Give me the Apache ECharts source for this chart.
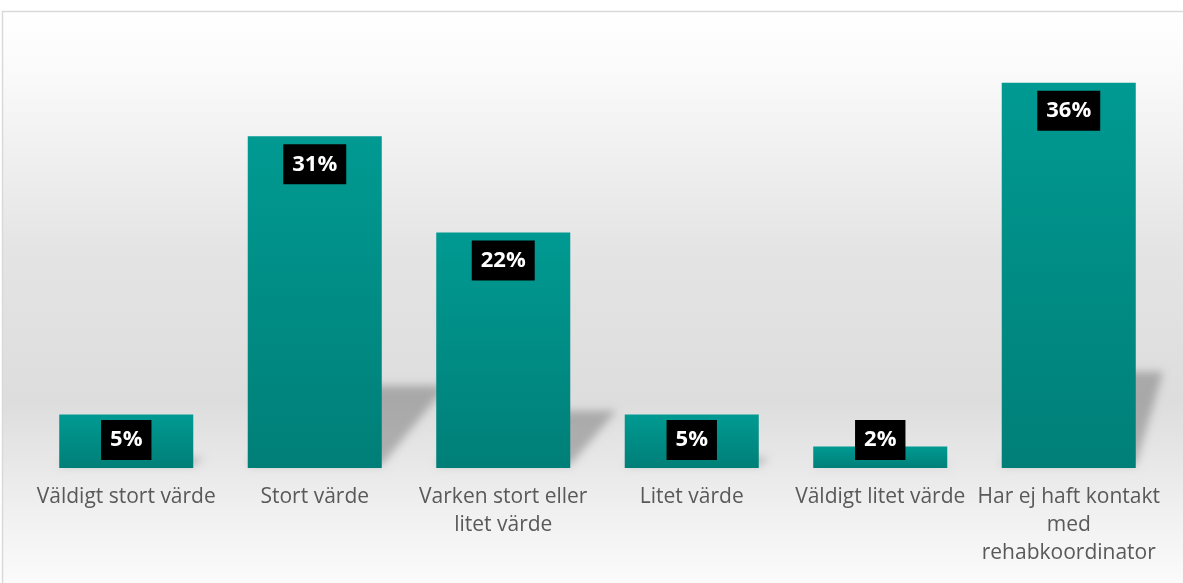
<!DOCTYPE html>
<html>
<head>
<meta charset="utf-8">
<script src="https://cdn.jsdelivr.net/npm/echarts@6/dist/echarts.min.js"></script>
<style>
  html, body { margin: 0; padding: 0; background: #fff; }
  #chart { width: 1183px; height: 583px; }
</style>
</head>
<body>
<div id="chart"></div>
<script>
// svar i procent
const categories = [
  'Väldigt stort värde',
  'Stort värde',
  'Varken stort eller\nlitet värde',
  'Litet värde',
  'Väldigt litet värde',
  'Har ej haft kontakt\nmed\nrehabkoordinator'
]
const values = [5, 31, 22, 5, 2, 36]

const chart = echarts.init(document.getElementById('chart'))

const barRatio = 0.711
const far = 3000

// skugga bakom staplarna (perspektiv), ritas bara som suddig skugga
function renderShadow(params, api) {
  let idx = api.value(0)
  let val = api.value(1)
  let base = api.coord([idx, 0])
  let top = api.coord([idx, val])
  let bw = api.size([1, 0])[0] * barRatio
  let h = base[1] - top[1]
  let sh = h * 0.26
  let dx = sh * 0.75
  let left = base[0] - bw / 2
  let right = base[0] + bw / 2
  let maxX = params.coordSys.x + params.coordSys.width
  let cx = x => Math.min(x, maxX) - far
  return {
    type: 'polygon',
    shape: {
      points: [
        [cx(left), base[1] - 3],
        [cx(right), base[1] - 3],
        [cx(right + dx), base[1] - sh + 4],
        [cx(left + dx), base[1] - sh + 4]
      ]
    },
    style: {
      fill: '#000',
      shadowBlur: 9,
      shadowOffsetX: far,
      shadowColor: 'rgba(0,0,0,0.24)'
    }
  }
}

chart.setOption({
  animation: false,
  graphic: [{
    type: 'rect',
    z: -10,
    silent: true,
    shape: { x: 2.5, y: 11.5, width: 1200, height: 600 },
    style: {
      fill: new echarts.graphic.LinearGradient(0, 0, 0, 1, [
        { offset: 0, color: '#ffffff' },
        { offset: 0.1, color: '#fafafa' },
        { offset: 0.4, color: '#e4e4e4' },
        { offset: 0.65, color: '#dddddd' },
        { offset: 0.82, color: '#efefef' },
        { offset: 1, color: '#ffffff' }
      ]),
      stroke: '#d9d9d9',
      lineWidth: 1.5
    }
  }],
  grid: { left: 32, right: 20, top: 40, bottom: 115 },
  xAxis: {
    type: 'category',
    data: categories,
    axisLine: { show: false },
    axisTick: { show: false },
    axisLabel: {
      interval: 0,
      margin: 15,
      color: '#595959',
      fontSize: 21,
      lineHeight: 28,
      fontFamily: 'Open Sans'
    }
  },
  yAxis: {
    type: 'value',
    min: 0,
    max: 40,
    show: false
  },
  series: [
    {
      type: 'custom',
      renderItem: renderShadow,
      z: 1,
      silent: true,
      data: values.map((v, i) => [i, v])
    },
    {
      type: 'bar',
      z: 3,
      barWidth: (barRatio * 100) + '%',
      itemStyle: {
        color: new echarts.graphic.LinearGradient(0, 0, 0, 1, [
          { offset: 0, color: '#009a92' },
          { offset: 1, color: '#007f78' }
        ])
      },
      label: {
        show: true,
        position: 'insideTop',
        distance: 8,
        formatter: '{c}%',
        color: '#fff',
        fontSize: 22,
        fontWeight: 'bold',
        fontFamily: 'Open Sans',
        backgroundColor: '#000',
        padding: [7, 9, 7, 9],
        lineHeight: 26
      },
      data: values.map(v => {
        if (v < 10) {
          return { value: v, label: { position: 'insideBottom', distance: 8 } }
        }
        return v
      })
    }
  ]
})
</script>
</body>
</html>
